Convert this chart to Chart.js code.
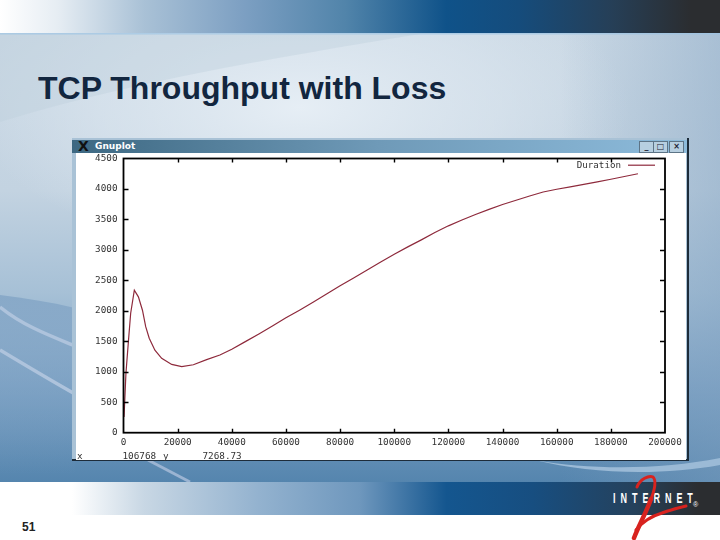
<!DOCTYPE html>
<html><head><meta charset="utf-8">
<style>
html,body{margin:0;padding:0;background:#fff}
#page{position:relative;width:720px;height:540px;overflow:hidden;font-family:"Liberation Sans",Arial,sans-serif}
#bg{position:absolute;left:0;top:0}
#title{position:absolute;left:38px;top:69px;font-size:32px;font-weight:bold;color:#12263f;line-height:38px;white-space:nowrap}
#win{position:absolute;left:72px;top:138px;width:615px;height:321px;background:#a9c2d6;border-right:2px solid #1d2c3a;border-bottom:2px solid #1d2c3a}
#bar{position:absolute;left:0;top:2px;width:615px;height:13px;background:linear-gradient(90deg,#3d6882,#6f9ab8 50%,#8dbbdb);color:#fff;font:bold 9px "DejaVu Sans",sans-serif;line-height:13px}
#bar span.t{position:absolute;left:23px}
#bar span.x{position:absolute;left:6px;top:0;color:#111;font-size:14px}
.btn{position:absolute;top:1px;width:13px;height:10px;background:#b7cfe0;border:1px solid #5d7486;color:#223;font:bold 8px/9px "DejaVu Sans",sans-serif;text-align:center}
#cv{position:absolute;left:76px;top:153px;filter:blur(.3px)}
.st{position:absolute;top:450px;font:9.3px/11px "DejaVu Sans Mono",monospace;color:#333;white-space:pre}
#num{position:absolute;left:22px;top:520px;font-size:12px;font-weight:bold;color:#222}
#inet{position:absolute;left:613px;top:489px;color:#fff;font:bold 15px/18px "Liberation Sans",sans-serif;letter-spacing:8.3px;white-space:nowrap;transform:scaleX(.6);transform-origin:left top}
#reg{position:absolute;left:693px;top:500px;color:#fff;font:7px/9px "Liberation Sans",sans-serif}
</style>
<script src="https://cdn.jsdelivr.net/npm/chart.js@4"></script>
</head><body>
<div id="page">
<svg id="bg" width="720" height="540">
<defs>
<linearGradient id="top" x1="0" x2="1" y1="0" y2="0">
<stop offset="0" stop-color="#ffffff"/><stop offset=".08" stop-color="#e6edf3"/><stop offset=".2" stop-color="#a9c1d6"/><stop offset=".34" stop-color="#7c9fc2"/><stop offset=".48" stop-color="#5184aa"/><stop offset=".62" stop-color="#0f5289"/><stop offset=".72" stop-color="#154c7c"/><stop offset=".85" stop-color="#263f57"/><stop offset=".96" stop-color="#2b2d30"/>
</linearGradient>
<linearGradient id="bot" x1="0" x2="1" y1="0" y2="0">
<stop offset="0" stop-color="#ffffff"/><stop offset=".1" stop-color="#ffffff"/><stop offset=".2" stop-color="#c8d7e4"/><stop offset=".36" stop-color="#93b2cf"/><stop offset=".5" stop-color="#6e97bd"/><stop offset=".62" stop-color="#14568f"/><stop offset=".74" stop-color="#174e80"/><stop offset=".88" stop-color="#25415c"/><stop offset=".97" stop-color="#2b2d30"/>
</linearGradient>
<linearGradient id="main" x1="0" x2="0" y1="0" y2="1">
<stop offset="0" stop-color="#cbd9e5"/><stop offset=".35" stop-color="#c3d3e1"/><stop offset=".58" stop-color="#a6c0d6"/><stop offset=".78" stop-color="#7ea3c5"/><stop offset="1" stop-color="#5585ae"/>
</linearGradient>
<radialGradient id="glow" gradientUnits="userSpaceOnUse" cx="300" cy="105" r="330" gradientTransform="translate(0 60) scale(1 .45)">
<stop offset="0" stop-color="#e6eef5" stop-opacity="1"/><stop offset=".6" stop-color="#dde7f0" stop-opacity=".6"/><stop offset="1" stop-color="#dde7f0" stop-opacity="0"/>
</radialGradient>
<linearGradient id="right" x1="0" x2="1" y1="0" y2="0">
<stop offset="0" stop-color="#7fa0c0" stop-opacity="0"/><stop offset="1" stop-color="#7fa0c0" stop-opacity=".45"/>
</linearGradient>
<linearGradient id="wave" gradientUnits="userSpaceOnUse" x1="0" x2="0" y1="295" y2="475">
<stop offset="0" stop-color="#7fa2c4" stop-opacity=".75"/><stop offset="1" stop-color="#7fa2c4" stop-opacity="0"/>
</linearGradient>
</defs>
<rect x="0" y="33" width="720" height="449" fill="url(#main)"/>
<rect x="0" y="33" width="720" height="260" fill="url(#glow)"/>
<rect x="560" y="33" width="160" height="449" fill="url(#right)"/>
<path d="M0 122 C120 85 260 60 420 34 L0 34 Z" fill="#bdcfdd" opacity=".4"/>
<path d="M0 295 C25 298 50 302 75 308 L75 482 L0 482 Z" fill="url(#wave)"/>
<path d="M0 307 C22 325 48 335 75 346" fill="none" stroke="#aec3dc" stroke-width="3.5"/>
<path d="M0 350 C25 365 50 380 75 394" fill="none" stroke="#aec3dc" stroke-width="3.5"/>
<path d="M148 460 L190 482" fill="none" stroke="#9bb4d2" stroke-width="3"/>
<path d="M535 460 C590 470 660 470 720 458 L720 465 C660 476 590 474 535 460 Z" fill="#9bbad6"/>
<rect x="0" y="0" width="720" height="33" fill="url(#top)"/>
<rect x="0" y="33" width="720" height="1.5" fill="#9cc3e3" opacity=".7"/>
<rect x="0" y="482" width="720" height="33" fill="url(#bot)"/>
<rect x="0" y="515" width="720" height="25" fill="#ffffff"/>
</svg>
<div id="title">TCP Throughput with Loss</div>
<div id="win"><div id="bar"><span class="x">X</span><span class="t">Gnuplot</span>
<span class="btn" style="left:567px">_</span><span class="btn" style="left:581px">□</span><span class="btn" style="left:597px">×</span></div></div>
<canvas id="cv" width="610" height="307"></canvas>
<div class="st" style="left:77px">x</div>
<div class="st" style="left:122.5px">106768</div>
<div class="st" style="left:163px">y</div>
<div class="st" style="left:202.5px">7268.73</div>
<div id="num">51</div>
<div id="inet">INTERNET</div>
<div id="reg">®</div>
<svg id="logo" width="720" height="540" style="position:absolute;left:0;top:0">
<path d="M637 487 C640 479 649 475 653 477 C657 481 654 492 650 502" fill="none" stroke="#d8231f" stroke-width="3" stroke-linecap="round"/>
<path d="M651 499 C646 513 639 525 634 538" fill="none" stroke="#d8231f" stroke-width="4.5" stroke-linecap="round"/>
<path d="M636 530 C643 521 652 516 662 513 C670 510 678 508 686 506" fill="none" stroke="#d8231f" stroke-width="3" stroke-linecap="round"/>
</svg>
</div>
<script>
const xValues = [200,900,1800,2650,4000,5500,7000,8200,9500,11600,14100,17800,21500,25800,30700,35600,40000,45000,50000,55000,60000,65000,70000,75000,80000,85000,90000,95000,100000,105000,110000,115000,120000,125000,130000,135000,140000,145000,150000,155000,160000,165000,170000,175000,180000,185000,190000];
const durationValues = [260,975,1490,1960,2340,2230,2010,1740,1550,1355,1220,1120,1085,1115,1200,1275,1370,1495,1620,1750,1885,2010,2140,2275,2410,2540,2670,2800,2930,3050,3165,3285,3395,3490,3580,3665,3745,3815,3885,3950,3995,4035,4075,4115,4160,4205,4250];
const seriesName = "Duration";
const xMax = 200000, xStep = 20000, yMax = 4500, yStep = 500;

const frame = {
  id:'frame',
  afterDatasetsDraw(c){
    const g=c.ctx,a=c.chartArea,xs=c.scales.x,ys=c.scales.y;
    g.save();
    g.strokeStyle='#000';g.lineWidth=1.4;
    xs.ticks.forEach((t,i)=>{const p=Math.round(xs.getPixelForTick(i))+.5;
      if(i>0&&i<xs.ticks.length-1){g.beginPath();g.moveTo(p,a.bottom);g.lineTo(p,a.bottom-4);g.moveTo(p,a.top);g.lineTo(p,a.top+4);g.stroke();}});
    ys.ticks.forEach((t,i)=>{const p=Math.round(ys.getPixelForTick(i))+.5;
      if(i>0&&i<ys.ticks.length-1){g.beginPath();g.moveTo(a.left,p);g.lineTo(a.left+5,p);g.moveTo(a.right,p);g.lineTo(a.right-5,p);g.stroke();}});
    g.lineWidth=1.8;
    g.strokeRect(a.left,a.top,a.right-a.left,a.bottom-a.top);
    const ds=c.data.datasets[0];
    g.fillStyle='#333';g.font='9.2px "DejaVu Sans Mono",monospace';g.textAlign='right';g.textBaseline='alphabetic';
    g.fillText(ds.label,a.right-44,a.top+9.5);
    g.strokeStyle=ds.borderColor;g.lineWidth=1.2;
    g.beginPath();g.moveTo(a.right-37,a.top+6.7);g.lineTo(a.right-10,a.top+6.7);g.stroke();
    g.restore();
  }
};
const whiteBg={id:'whiteBg',beforeDraw(c){c.ctx.save();c.ctx.fillStyle='#fff';c.ctx.fillRect(0,0,c.width,c.height);c.ctx.restore();}};

new Chart(document.getElementById('cv'),{
  type:'line',
  data:{datasets:[{label:seriesName,data:xValues.map((x,i)=>({x,y:durationValues[i]})),borderColor:'#8e2a3c',borderWidth:1.2,pointRadius:0,tension:0,fill:false}]},
  options:{
    responsive:false,animation:false,devicePixelRatio:1,
    layout:{padding:{left:0,top:0,right:21,bottom:0}},
    plugins:{legend:{display:false},tooltip:{enabled:false},title:{display:false}},
    scales:{
      x:{type:'linear',min:0,max:xMax,
        afterFit(s){s.height=27.3;},
        grid:{display:false,drawTicks:false},border:{display:false},
        ticks:{stepSize:xStep,autoSkip:false,maxRotation:0,padding:4,color:'#333',font:{family:'"DejaVu Sans Mono",monospace',size:9.3},callback:v=>String(v)}},
      y:{type:'linear',min:0,max:yMax,
        afterFit(s){s.width=47.5;s.paddingTop=5.5;s.paddingBottom=0;},
        grid:{display:false,drawTicks:false},border:{display:false},
        ticks:{stepSize:yStep,autoSkip:false,padding:6,color:'#333',font:{family:'"DejaVu Sans Mono",monospace',size:9.3},callback:v=>String(v)}}
    }
  },
  plugins:[whiteBg,frame]
});
</script>
</body></html>
